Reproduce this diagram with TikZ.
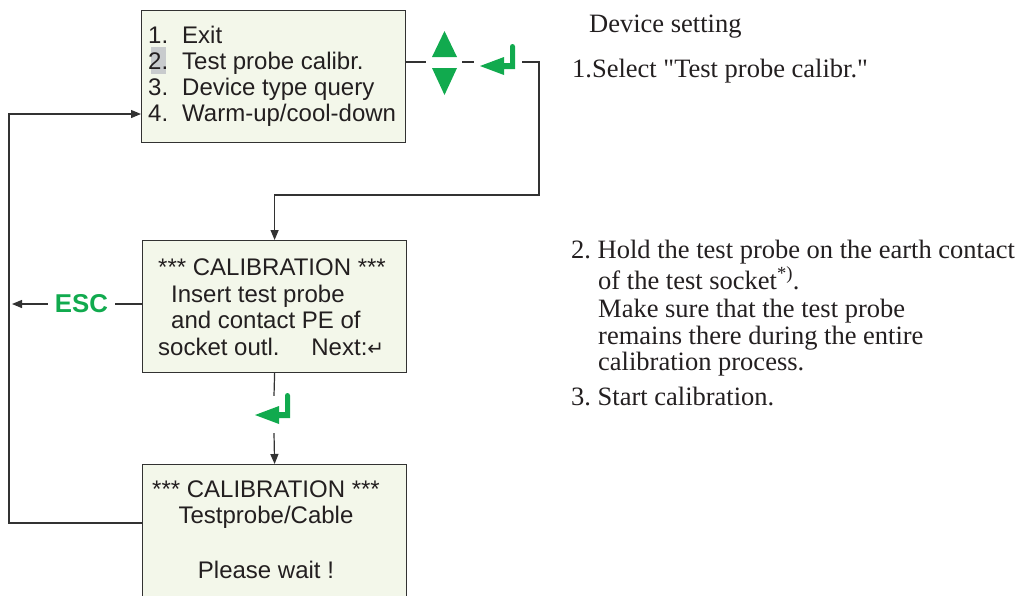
\documentclass[tikz,border=0pt]{standalone}
\usepackage{fontspec}
\setmainfont{Liberation Serif}
\newfontfamily\arial{Liberation Sans}
\newfontfamily\dejavu{DejaVu Sans}
\usetikzlibrary{arrows.meta}
\frenchspacing
\definecolor{boxfill}{RGB}{243,247,234}
\definecolor{linec}{RGB}{50,50,50}
\definecolor{textc}{RGB}{35,31,32}
\definecolor{grn}{RGB}{17,170,78}
\definecolor{hl}{RGB}{200,203,205}
\tikzset{
  enterkey/.pic={
    \fill[grn] (0,0) -- (24,-9) -- (24,-3) -- (30,-3) [rounded corners=2.5pt] -- (30,-22) -- (35,-22) [sharp corners] -- (35,3) -- (24,3) -- (24,9) -- cycle;
  }
}
\begin{document}
\begin{tikzpicture}[x=1pt,y=-1pt,
  screen/.style={draw=linec,line width=1.2pt,fill=boxfill,minimum width=264pt,minimum height=132pt,inner sep=0pt,anchor=north west},
  conn/.style={draw=linec,line width=1.2pt},
  arr/.style={conn,-{Triangle[length=10pt,width=8pt]}},
  lcd/.style={font=\arial\fontsize{24}{26}\selectfont,text=textc,inner sep=0pt,anchor=base west},
  note/.style={font=\fontsize{26.5}{27}\selectfont,text=textc,inner sep=0pt,anchor=base west},
  gap/.style={inner sep=0pt,minimum width=#1}
]
\useasboundingbox (0,0) rectangle (1020,595);
\clip (0,0) rectangle (1020,595);

% screens
\node[screen] (b1) at (141,10) {};
\node[screen] (b2) at (142,240) {};
\node[screen,minimum height=140pt] (b3) at (142,464) {};

% box 1 text
\fill[hl] (151,47) rectangle (166,74);
\node[lcd] (m1) at (148,43) {\makebox[34pt][l]{1.}Exit};
\node[lcd] (m2) at (148,69) {\makebox[34pt][l]{2.}Test probe calibr.};
\node[lcd] (m3) at (148,95) {\makebox[34pt][l]{3.}Device type query};
\node[lcd] (m4) at (148,121) {\makebox[34pt][l]{4.}Warm-up/cool-down};

% box 2 text
\node[lcd] (c1) at (158,275) {*** CALIBRATION ***};
\node[lcd] (c2) at (171,302) {Insert test probe};
\node[lcd] (c3) at (171,328) {and contact PE of};
\node[lcd] (c4) at (158,355) {\makebox[226pt][l]{socket outl.\hfill Next:{\dejavu\fontsize{20}{20}\selectfont ↵}}};

% box 3 text
\node[lcd,anchor=base] (d1) at (266,497) {*** CALIBRATION ***};
\node[lcd,anchor=base] (d2) at (266,523) {Testprobe/Cable};
\node[lcd,anchor=base] (d3) at (266,578) {Please wait !};

% key symbols
\node[gap=36pt,minimum height=64pt] (ud) at (444,62) {};
\fill[grn] (432,57) -- (457,57) -- (444.5,31) -- cycle;
\fill[grn] (432,68) -- (457,68) -- (444.5,95) -- cycle;
\node[gap=48pt,minimum height=30pt] (ent1) at (498,62) {};
\pic at (480,66) {enterkey};
\node[gap=40pt,minimum height=37pt] (ent2) at (274,414.5) {};
\pic at (255,415) {enterkey};

% connectors
\coordinate (r1) at (539,195);
\draw[conn] (ud.west -| b1.east) -- (ud.west);
\draw[conn] (ud.east) -- (ent1.west);
\draw[arr] (ent1.east) -| (r1) -| (b2.north);
\draw[conn] (b2.south) -- (ent2.north);
\draw[arr] (ent2.south) -- (b3.north);

% ESC
\node[font=\arial\bfseries\fontsize{25.8}{28}\selectfont,text=grn,inner xsep=7pt,inner ysep=0pt] (esc) at (81.5,304) {ESC};
\coordinate (lt) at (9,114);
\coordinate (lb) at (9,523);
\draw[conn] (esc.east -| b2.west) -- (esc.east);
\draw[arr,shorten >=3pt] (esc.west) -- (esc.west -| lt);
\draw[arr] (lb -| b3.west) -- (lb) -- (lt) -- (lt -| b1.west);

% notes
\node[note] (n0) at (589,32) {Device setting};
\node[note] (n1) at (572,77) {1.Select \textquotedbl Test probe calibr.\textquotedbl};
\node[note] (n2) at (571,258) {2. Hold the test probe on the earth contact};
\node[note] (n3) at (598,289) {of the test socket\textsuperscript{*)}.};
\node[note] (n4) at (598,317) {Make sure that the test probe};
\node[note] (n5) at (598,344) {remains there during the entire};
\node[note] (n6) at (598,370) {calibration process.};
\node[note] (n7) at (571,405) {3. Start calibration.};
\end{tikzpicture}
\end{document}
